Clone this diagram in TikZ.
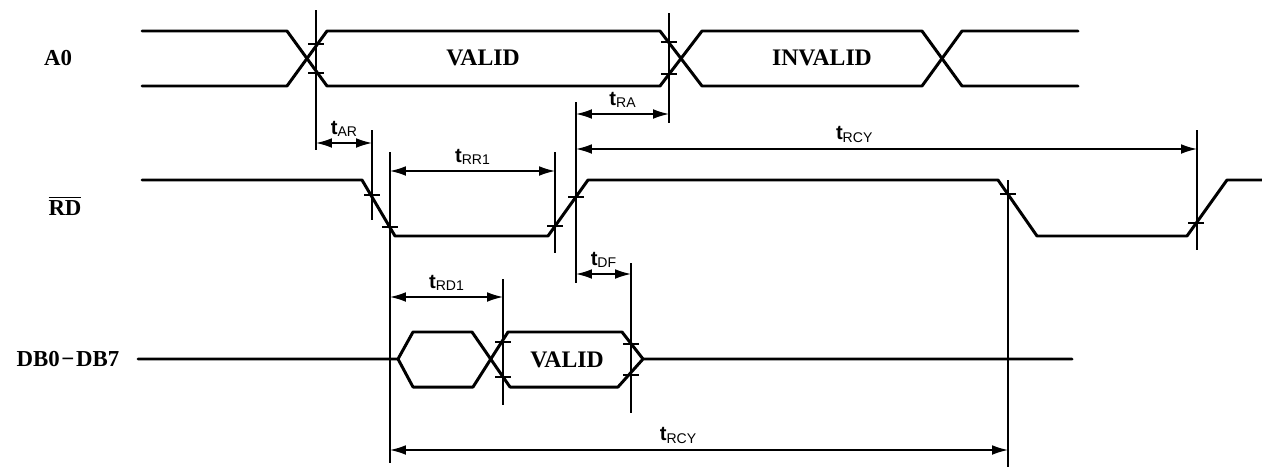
\documentclass[tikz,border=0pt]{standalone}
\usepackage{fontspec}
\setmainfont{Liberation Serif}
\setsansfont{Liberation Sans}
\usetikzlibrary{arrows.meta,positioning,calc}

\newcommand{\tparam}[1]{{\sffamily\bfseries\fontsize{11.5}{12}\selectfont t}{\sffamily\fontsize{8}{9}\selectfont\raisebox{-1.2pt}{#1}}}

\begin{document}
\begin{tikzpicture}[
    x=0.02cm, y=-0.02cm,
    signal/.style={line width=1.7pt, line join=round, line cap=round},
    marker/.style={line width=0.8pt},
    timing/.style={{Latex[length=9pt,width=5.5pt]}-{Latex[length=9pt,width=5.5pt]}, line width=0.8pt},
    siglabel/.style={font=\bfseries\fontsize{13}{15}\selectfont},
    statelabel/.style={font=\bfseries\fontsize{13.5}{16}\selectfont},
    tlabel/.style={above=2.5pt, inner sep=1pt}
]
    \useasboundingbox (0,0) rectangle (1262,467);

    % Signal names
    \node[siglabel] (a0) at (58,58) {A0};
    \node[siglabel] (rd) at (65,206) {$\overline{\mbox{RD}}$};
    \node[siglabel] (db) at (68,359) {DB0\kern1pt−\kern1ptDB7};

    % A0
    \draw[signal] (142,31) -- (287,31) -- (327,86) -- (660,86) -- (702,31) -- (922,31) -- (962,86) -- (1078,86);
    \draw[signal] (142,86) -- (287,86) -- (327,31) -- (660,31) -- (702,86) -- (922,86) -- (962,31) -- (1078,31);
    \node[statelabel] (a0valid) at (483,58) {VALID};
    \node[statelabel] (a0invalid) at (822,58) {INVALID};

    % RD
    \draw[signal] (142,180) -- (362,180) -- (395,236) -- (548,236) -- (588,180) -- (998,180)
        -- (1037,236) -- (1187,236) -- (1227,180) -- (1262,180);

    % DB0-DB7
    \draw[signal] (138,359) -- (398,359) -- (413,332) -- (472,332) -- (510,387) -- (618,387) -- (643,359) -- (1072,359);
    \draw[signal] (398,359) -- (413,387) -- (473,387) -- (508,332) -- (622,332) -- (643,359);
    \node[statelabel] (dbvalid) at (567,360) {VALID};

    % Reference lines
    \draw[marker] (316,10) -- (316,150);
    \draw[marker] (669,13) -- (669,123);
    \draw[marker] (372,130) -- (372,220);
    \draw[marker] (390,152) -- (390,463);
    \draw[marker] (555,152) -- (555,253);
    \draw[marker] (576,102) -- (576,283);
    \draw[marker] (1008,180) -- (1008,467);
    \draw[marker] (1197,130) -- (1197,250);
    \draw[marker] (503,279) -- (503,405);
    \draw[marker] (631,263) -- (631,413);

    % Ticks on edges
    \foreach \tx/\ty in {316/44, 316/73, 669/42, 669/74, 372/195, 390/227, 555/226, 576/197,
                         1008/194, 1196/223, 503/342, 503/377, 631/344, 631/375}
        \draw[marker] (\tx-8,\ty) -- (\tx+8,\ty);

    % Timing arrows
    \coordinate (ar-l) at (316,143);
    \coordinate (ar-r) at (372,143);
    \draw[timing] (ar-l) -- node[tlabel] (tar) {\tparam{AR}} (ar-r);

    \coordinate (ra-l) at (576,114);
    \coordinate (ra-r) at (669,114);
    \draw[timing] (ra-l) -- node[tlabel] (tra) {\tparam{RA}} (ra-r);

    \coordinate (rcy1-l) at (576,149);
    \coordinate (rcy1-r) at (1197,149);
    \draw[timing] (rcy1-l) -- node[tlabel, pos=0.448] (trcy1) {\tparam{RCY}} (rcy1-r);

    \coordinate (rr-l) at (390,171);
    \coordinate (rr-r) at (555,171);
    \draw[timing] (rr-l) -- node[tlabel] (trr) {\tparam{RR1}} (rr-r);

    \coordinate (df-l) at (576,274);
    \coordinate (df-r) at (631,274);
    \draw[timing] (df-l) -- node[tlabel] (tdf) {\tparam{DF}} (df-r);

    \coordinate (rd-l) at (390,297);
    \coordinate (rd-r) at (503,297);
    \draw[timing] (rd-l) -- node[tlabel] (trd) {\tparam{RD1}} (rd-r);

    \coordinate (rcy2-l) at (390,450);
    \coordinate (rcy2-r) at (1008,450);
    \draw[timing] (rcy2-l) -- node[tlabel, pos=0.466] (trcy2) {\tparam{RCY}} (rcy2-r);

\end{tikzpicture}
\end{document}
